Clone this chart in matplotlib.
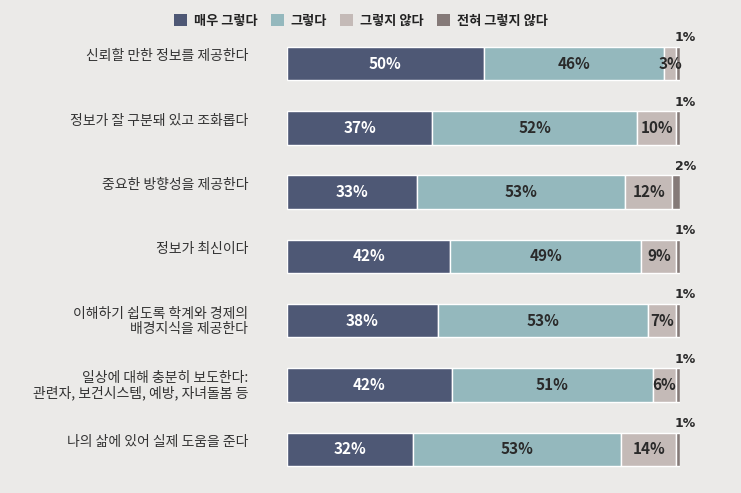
import matplotlib
matplotlib.use("Agg")
import matplotlib.pyplot as plt
from matplotlib.patches import Patch
import numpy as np

plt.rcParams['font.family'] = ['Noto Sans CJK KR', 'DejaVu Sans']

categories = [
    "신뢰할 만한 정보를 제공한다",
    "정보가 잘 구분돼 있고 조화롭다",
    "중요한 방향성을 제공한다",
    "정보가 최신이다",
    "이해하기 쉽도록 학계와 경제의\n배경지식을 제공한다",
    "일상에 대해 충분히 보도한다:\n관련자, 보건시스템, 예방, 자녀돌봄 등",
    "나의 삶에 있어 실제 도움을 준다",
]
series_names = ["매우 그렇다", "그렇다", "그렇지 않다", "전혀 그렇지 않다"]
very_agree = [50, 37, 33, 42, 38, 42, 32]
agree = [46, 52, 53, 49, 53, 51, 53]
disagree = [3, 10, 12, 9, 7, 6, 14]
strongly_disagree = [1, 1, 2, 1, 1, 1, 1]

colors = ["#4e5875", "#94b8bd", "#c4bab7", "#857a78"]
text_colors = ["white", "#2a2a2a", "#2a2a2a", "#2a2a2a"]
bg = "#ebeae8"

fig = plt.figure(figsize=(7.41, 4.93), dpi=100, facecolor=bg)
ax = fig.add_axes([0.387, 0.0, 0.531, 1.0])
ax.set_facecolor(bg)

series = [very_agree, agree, disagree, strongly_disagree]
n = len(categories)
y = np.arange(n)
totals = np.sum(np.array(series, dtype=float), axis=0)
left = np.zeros(n)
pct_font = dict(family=['Liberation Sans Narrow', 'Noto Sans CJK KR', 'DejaVu Sans'],
                fontweight='bold', fontsize=11)
for si, vals in enumerate(series):
    vals = np.array(vals, dtype=float)
    widths = vals / totals * 100
    ax.barh(y, widths, left=left, height=0.52, color=colors[si],
            edgecolor='white', linewidth=1.0)
    for i in range(n):
        if si < 3:
            ax.text(left[i] + widths[i] / 2, y[i], f"{int(vals[i])}%",
                    ha='center', va='center', color=text_colors[si], **pct_font)
        else:
            ax.text(left[i] + widths[i] + 1.3, y[i] - 0.40, f"{int(vals[i])}%",
                    ha='center', va='center', color="#2a2a2a",
                    family=['Liberation Sans Narrow', 'DejaVu Sans'],
                    fontweight='bold', fontsize=9)
    left += widths

ax.set_xlim(0, 100)
ax.set_ylim(6.68, -0.988)
ax.axis('off')

for i, cat in enumerate(categories):
    ax.text(-0.098, y[i] - 0.22, cat, transform=ax.get_yaxis_transform(),
            ha='right', va='top', fontsize=10, color="#333333",
            linespacing=1.1)

handles = [Patch(facecolor=c, edgecolor='none') for c in colors]
leg = fig.legend(handles, series_names, loc='center', bbox_to_anchor=(0.487, 0.958),
                 ncol=4, frameon=False, handlelength=1.0, handleheight=1.0,
                 handletextpad=0.5, columnspacing=1.0,
                 prop=dict(family=['Noto Sans CJK KR', 'DejaVu Sans'], weight='bold', size=9.5))
for t in leg.get_texts():
    t.set_color("#222222")

fig.savefig("out.png", dpi=100, facecolor=bg)
